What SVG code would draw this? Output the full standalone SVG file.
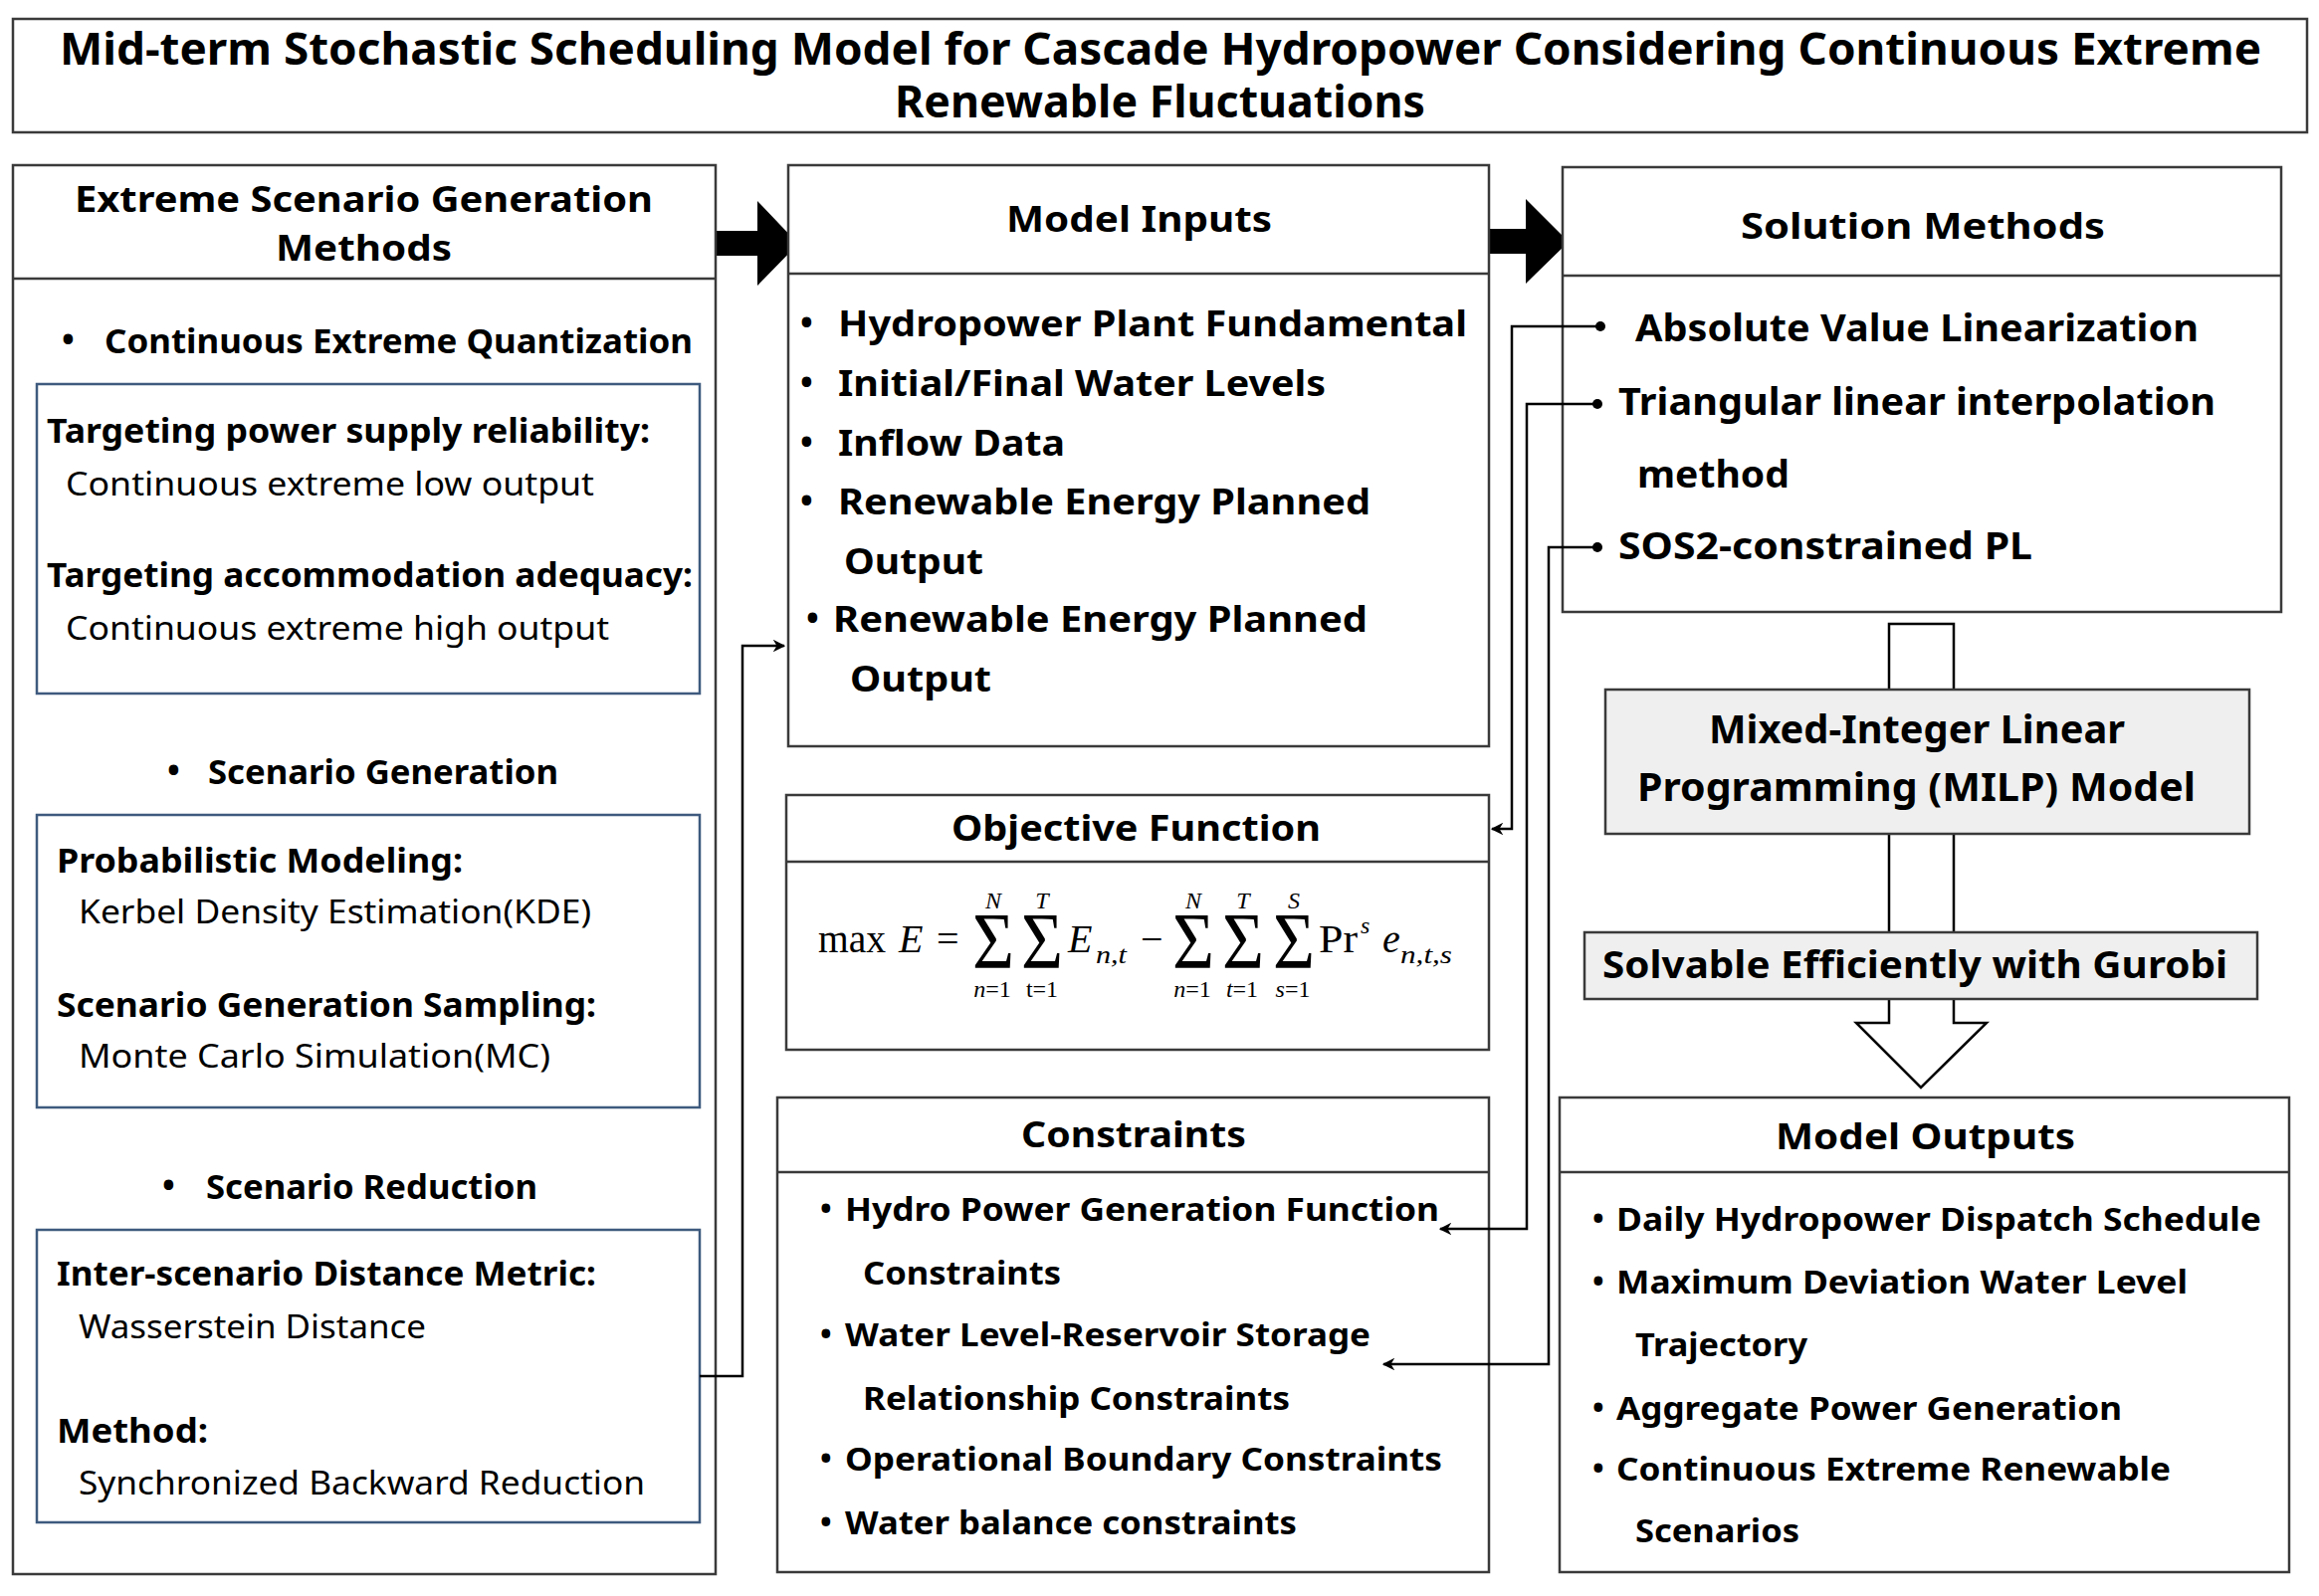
<svg xmlns="http://www.w3.org/2000/svg" width="2330" height="1604" viewBox="0 0 2330 1604">
<defs>
<style>
.box{fill:#fff;stroke:#3a3a3a;stroke-width:2.5}
.blue{fill:none;stroke:#3e5a7e;stroke-width:2.5}
.gray{fill:#efefef;stroke:#3a3a3a;stroke-width:2.5}
.t{font-family:"Noto Sans","Open Sans","Liberation Sans",sans-serif;fill:#000}
.b{font-weight:700}
.r{font-weight:400}
.m{font-family:"Liberation Serif","Times New Roman",serif;fill:#000}
.i{font-style:italic}
.conn{fill:none;stroke:#000;stroke-width:2.5}
</style>
<marker id="ah" viewBox="0 0 10 10" refX="9" refY="5" markerWidth="5" markerHeight="5" orient="auto" markerUnits="strokeWidth">
<path d="M0,0 L10,5 L0,10 L3,5 Z" fill="#000"/>
</marker>
<marker id="dot" viewBox="0 0 10 10" refX="5" refY="5" markerWidth="4" markerHeight="4" markerUnits="strokeWidth">
<circle cx="5" cy="5" r="5" fill="#000"/>
</marker>
</defs>
<rect width="2330" height="1604" fill="#fff"/>

<g id="title">
<rect class="box" x="13" y="19" width="2305" height="114"/>
<text class="t b" x="60" y="65" font-size="45" textLength="2212" lengthAdjust="spacingAndGlyphs">Mid-term Stochastic Scheduling Model for Cascade Hydropower Considering Continuous Extreme</text>
<text class="t b" x="899" y="118" font-size="45" textLength="533" lengthAdjust="spacingAndGlyphs">Renewable Fluctuations</text>
</g>

<g id="big-arrows">
<polygon points="701,232 761,232 761,202 802,245 761,287 761,257 701,257" fill="#000"/>
<polygon points="1477,230 1533,230 1533,200 1576,243 1533,285 1533,255 1477,255" fill="#000"/>
</g>

<g id="scenario-methods">
<rect class="box" x="13" y="166" width="706" height="1416"/>
<line x1="13" y1="280" x2="719" y2="280" stroke="#3a3a3a" stroke-width="2.5"/>
<text class="t b" x="75" y="213" font-size="35" textLength="581" lengthAdjust="spacingAndGlyphs">Extreme Scenario Generation</text>
<text class="t b" x="277" y="262" font-size="35" textLength="177" lengthAdjust="spacingAndGlyphs">Methods</text>
<text class="t b" x="62" y="353" font-size="34">•</text>
<text class="t b" x="105" y="355" font-size="34" textLength="591" lengthAdjust="spacingAndGlyphs">Continuous Extreme Quantization</text>
<rect class="blue" x="37" y="386" width="666" height="311"/>
<text class="t b" x="47" y="445" font-size="34" textLength="606" lengthAdjust="spacingAndGlyphs">Targeting power supply reliability:</text>
<text class="t r" x="66" y="498" font-size="32" textLength="531" lengthAdjust="spacingAndGlyphs">Continuous extreme low output</text>
<text class="t b" x="47" y="590" font-size="34" textLength="649" lengthAdjust="spacingAndGlyphs">Targeting accommodation adequacy:</text>
<text class="t r" x="66" y="643" font-size="32" textLength="546" lengthAdjust="spacingAndGlyphs">Continuous extreme high output</text>
<text class="t b" x="168" y="786" font-size="34">•</text>
<text class="t b" x="209" y="788" font-size="34" textLength="352" lengthAdjust="spacingAndGlyphs">Scenario Generation</text>
<rect class="blue" x="37" y="819" width="666" height="294"/>
<text class="t b" x="57" y="877" font-size="34" textLength="408" lengthAdjust="spacingAndGlyphs">Probabilistic Modeling:</text>
<text class="t r" x="79" y="928" font-size="32" textLength="515" lengthAdjust="spacingAndGlyphs">Kerbel Density Estimation(KDE)</text>
<text class="t b" x="57" y="1022" font-size="34" textLength="542" lengthAdjust="spacingAndGlyphs">Scenario Generation Sampling:</text>
<text class="t r" x="79" y="1073" font-size="32" textLength="474" lengthAdjust="spacingAndGlyphs">Monte Carlo Simulation(MC)</text>
<text class="t b" x="163" y="1203" font-size="34">•</text>
<text class="t b" x="207" y="1205" font-size="34" textLength="333" lengthAdjust="spacingAndGlyphs">Scenario Reduction</text>
<rect class="blue" x="37" y="1236" width="666" height="294"/>
<text class="t b" x="57" y="1292" font-size="34" textLength="542" lengthAdjust="spacingAndGlyphs">Inter-scenario Distance Metric:</text>
<text class="t r" x="79" y="1345" font-size="32" textLength="349" lengthAdjust="spacingAndGlyphs">Wasserstein Distance</text>
<text class="t b" x="57" y="1450" font-size="34" textLength="152" lengthAdjust="spacingAndGlyphs">Method:</text>
<text class="t r" x="79" y="1502" font-size="32" textLength="569" lengthAdjust="spacingAndGlyphs">Synchronized Backward Reduction</text>
</g>

<g id="model-inputs">
<rect class="box" x="792" y="166" width="704" height="584"/>
<line x1="792" y1="275" x2="1496" y2="275" stroke="#3a3a3a" stroke-width="2.5"/>
<text class="t b" x="1011" y="233" font-size="35" textLength="267" lengthAdjust="spacingAndGlyphs">Model Inputs</text>
<text class="t b" x="804" y="336" font-size="34">•</text>
<text class="t b" x="842" y="338" font-size="35" textLength="632" lengthAdjust="spacingAndGlyphs">Hydropower Plant Fundamental</text>
<text class="t b" x="804" y="396" font-size="34">•</text>
<text class="t b" x="842" y="398" font-size="35" textLength="490" lengthAdjust="spacingAndGlyphs">Initial/Final Water Levels</text>
<text class="t b" x="804" y="456" font-size="34">•</text>
<text class="t b" x="842" y="458" font-size="35" textLength="228" lengthAdjust="spacingAndGlyphs">Inflow Data</text>
<text class="t b" x="804" y="515" font-size="34">•</text>
<text class="t b" x="842" y="517" font-size="35" textLength="535" lengthAdjust="spacingAndGlyphs">Renewable Energy Planned</text>
<text class="t b" x="848" y="577" font-size="35" textLength="140" lengthAdjust="spacingAndGlyphs">Output</text>
<text class="t b" x="810" y="633" font-size="34">•</text>
<text class="t b" x="837" y="635" font-size="35" textLength="537" lengthAdjust="spacingAndGlyphs">Renewable Energy Planned</text>
<text class="t b" x="854" y="695" font-size="35" textLength="142" lengthAdjust="spacingAndGlyphs">Output</text>
</g>

<g id="objective-function">
<rect class="box" x="790" y="799" width="706" height="256"/>
<line x1="790" y1="866" x2="1496" y2="866" stroke="#3a3a3a" stroke-width="2.5"/>
<text class="t b" x="956" y="845" font-size="35" textLength="371" lengthAdjust="spacingAndGlyphs">Objective Function</text>
<g id="formula">
<text class="m" x="822" y="957" font-size="40" textLength="68" lengthAdjust="spacingAndGlyphs">max</text>
<text class="m i" x="903" y="957" font-size="40">E</text>
<text class="m" x="941" y="957" font-size="40">=</text>
<text class="m" x="977" y="973" font-size="80" textLength="42" lengthAdjust="spacingAndGlyphs">Σ</text>
<text class="m" x="1026" y="973" font-size="80" textLength="42" lengthAdjust="spacingAndGlyphs">Σ</text>
<text class="m i" x="1073" y="957" font-size="40">E</text>
<text class="m i" x="1101" y="968" font-size="25" textLength="31" lengthAdjust="spacingAndGlyphs">n,t</text>
<text class="m" x="1146" y="957" font-size="40">−</text>
<text class="m" x="1178" y="973" font-size="80" textLength="42" lengthAdjust="spacingAndGlyphs">Σ</text>
<text class="m" x="1228" y="973" font-size="80" textLength="42" lengthAdjust="spacingAndGlyphs">Σ</text>
<text class="m" x="1279" y="973" font-size="80" textLength="42" lengthAdjust="spacingAndGlyphs">Σ</text>
<text class="m" x="1325" y="957" font-size="40" textLength="39" lengthAdjust="spacingAndGlyphs">Pr</text>
<text class="m i" x="1367" y="938" font-size="24">s</text>
<text class="m i" x="1389" y="957" font-size="40">e</text>
<text class="m i" x="1407" y="968" font-size="25" textLength="52" lengthAdjust="spacingAndGlyphs">n,t,s</text>
<g text-anchor="middle" font-size="24">
<text class="m i" x="998" y="913">N</text>
<text class="m i" x="1047" y="913">T</text>
<text class="m i" x="1199" y="913">N</text>
<text class="m i" x="1249" y="913">T</text>
<text class="m i" x="1300" y="913">S</text>
<text class="m" x="997" y="1002"><tspan font-style="italic">n</tspan>=1</text>
<text class="m" x="1047" y="1002">t=1</text>
<text class="m" x="1198" y="1002"><tspan font-style="italic">n</tspan>=1</text>
<text class="m" x="1248" y="1002"><tspan font-style="italic">t</tspan>=1</text>
<text class="m" x="1299" y="1002"><tspan font-style="italic">s</tspan>=1</text>
</g>
</g>
</g>

<g id="constraints">
<rect class="box" x="781" y="1103" width="715" height="477"/>
<line x1="781" y1="1178" x2="1496" y2="1178" stroke="#3a3a3a" stroke-width="2.5"/>
<text class="t b" x="1026" y="1153" font-size="35" textLength="226" lengthAdjust="spacingAndGlyphs">Constraints</text>
<text class="t b" x="824" y="1225" font-size="31">•</text>
<text class="t b" x="849" y="1227" font-size="32" textLength="597" lengthAdjust="spacingAndGlyphs">Hydro Power Generation Function</text>
<text class="t b" x="867" y="1291" font-size="32" textLength="199" lengthAdjust="spacingAndGlyphs">Constraints</text>
<text class="t b" x="824" y="1351" font-size="31">•</text>
<text class="t b" x="849" y="1353" font-size="32" textLength="528" lengthAdjust="spacingAndGlyphs">Water Level-Reservoir Storage</text>
<text class="t b" x="867" y="1417" font-size="32" textLength="429" lengthAdjust="spacingAndGlyphs">Relationship Constraints</text>
<text class="t b" x="824" y="1476" font-size="31">•</text>
<text class="t b" x="849" y="1478" font-size="32" textLength="600" lengthAdjust="spacingAndGlyphs">Operational Boundary Constraints</text>
<text class="t b" x="824" y="1540" font-size="31">•</text>
<text class="t b" x="849" y="1542" font-size="32" textLength="454" lengthAdjust="spacingAndGlyphs">Water balance constraints</text>
</g>

<g id="solution-methods">
<rect class="box" x="1570" y="168" width="722" height="447"/>
<line x1="1570" y1="277" x2="2292" y2="277" stroke="#3a3a3a" stroke-width="2.5"/>
<text class="t b" x="1749" y="240" font-size="35" textLength="366" lengthAdjust="spacingAndGlyphs">Solution  Methods</text>
<text class="t b" x="1643" y="343" font-size="37" textLength="566" lengthAdjust="spacingAndGlyphs">Absolute Value Linearization</text>
<text class="t b" x="1626" y="417" font-size="37" textLength="600" lengthAdjust="spacingAndGlyphs">Triangular linear interpolation</text>
<text class="t b" x="1645" y="490" font-size="37" textLength="153" lengthAdjust="spacingAndGlyphs">method</text>
<text class="t b" x="1626" y="562" font-size="37" textLength="416" lengthAdjust="spacingAndGlyphs">SOS2-constrained PL</text>
</g>

<g id="hollow-arrow">
<path d="M1898,627 H1963 V1028 H1996 L1930,1093 L1865,1028 H1898 Z" fill="#fff" stroke="#000" stroke-width="2.5" stroke-linejoin="miter"/>
</g>

<g id="milp-model">
<rect class="gray" x="1613" y="693" width="647" height="145"/>
<text class="t b" x="1717" y="747" font-size="39" textLength="418" lengthAdjust="spacingAndGlyphs">Mixed-Integer Linear</text>
<text class="t b" x="1645" y="805" font-size="39" textLength="561" lengthAdjust="spacingAndGlyphs">Programming (MILP) Model</text>
</g>

<g id="gurobi">
<rect class="gray" x="1592" y="937" width="676" height="67"/>
<text class="t b" x="1610" y="983" font-size="37" textLength="628" lengthAdjust="spacingAndGlyphs">Solvable Efficiently with Gurobi</text>
</g>

<g id="model-outputs">
<rect class="box" x="1567" y="1103" width="733" height="477"/>
<line x1="1567" y1="1178" x2="2300" y2="1178" stroke="#3a3a3a" stroke-width="2.5"/>
<text class="t b" x="1784" y="1155" font-size="35" textLength="301" lengthAdjust="spacingAndGlyphs">Model Outputs</text>
<text class="t b" x="1600" y="1235" font-size="31">•</text>
<text class="t b" x="1624" y="1237" font-size="33" textLength="648" lengthAdjust="spacingAndGlyphs">Daily Hydropower Dispatch Schedule</text>
<text class="t b" x="1600" y="1298" font-size="31">•</text>
<text class="t b" x="1624" y="1300" font-size="33" textLength="574" lengthAdjust="spacingAndGlyphs">Maximum Deviation Water Level</text>
<text class="t b" x="1643" y="1363" font-size="33" textLength="173" lengthAdjust="spacingAndGlyphs">Trajectory</text>
<text class="t b" x="1600" y="1425" font-size="31">•</text>
<text class="t b" x="1624" y="1427" font-size="33" textLength="508" lengthAdjust="spacingAndGlyphs">Aggregate Power Generation</text>
<text class="t b" x="1600" y="1486" font-size="31">•</text>
<text class="t b" x="1624" y="1488" font-size="33" textLength="557" lengthAdjust="spacingAndGlyphs">Continuous Extreme Renewable</text>
<text class="t b" x="1643" y="1550" font-size="33" textLength="165" lengthAdjust="spacingAndGlyphs">Scenarios</text>
</g>

<g id="connectors">
<polyline class="conn" points="703,1383 746,1383 746,649 788,649" marker-end="url(#ah)"/>
<polyline class="conn" points="1608,328 1519,328 1519,833 1499,833" marker-start="url(#dot)" marker-end="url(#ah)"/>
<polyline class="conn" points="1605,406 1534,406 1534,1235 1447,1235" marker-start="url(#dot)" marker-end="url(#ah)"/>
<polyline class="conn" points="1605,550 1556,550 1556,1371 1390,1371" marker-start="url(#dot)" marker-end="url(#ah)"/>
</g>
</svg>
